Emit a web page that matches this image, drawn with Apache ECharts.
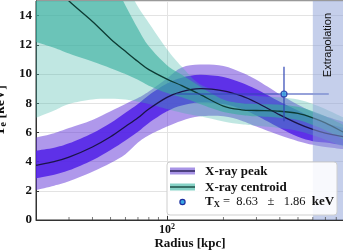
<!DOCTYPE html>
<html><head><meta charset="utf-8">
<script src="https://cdn.jsdelivr.net/npm/echarts@6/dist/echarts.min.js"></script>
<style>html,body{margin:0;padding:0;background:#fff}#c{width:343px;height:251px}</style>
</head><body><div id="c"></div>
<script>
// ---- data ----
const radius = [20,25,30,40,50,60,70,80,100,120,150,200,250,300,400,500,600,700,880];

const peakCenter  = [3.75,4.0,4.3,5.0,5.7,6.4,7.0,7.6,8.4,8.8,9.0,8.85,8.5,8.05,7.2,6.6,6.2,5.95,5.7];
const peakInnerLo = [2.85,3.1,3.4,4.1,4.8,5.45,6.05,6.65,7.45,7.85,8.05,7.95,7.6,7.15,6.3,5.7,5.4,5.3,5.1];
const peakInnerHi = [4.75,4.95,5.25,5.95,6.65,7.35,7.95,8.55,9.35,9.75,9.95,9.8,9.4,8.95,8.1,7.5,7.0,6.65,6.3];
const peakOuterLo = [2.05,2.35,2.65,3.3,3.9,4.5,5.3,5.8,6.4,6.8,7.1,7.1,6.8,6.4,5.8,5.4,5.15,5.0,4.85];
const peakOuterHi = [5.65,5.95,6.3,6.85,7.45,7.95,8.35,8.8,9.7,10.45,10.65,10.55,10.1,9.6,8.6,7.9,7.4,7.1,6.7];

const centroidCenter  = [17.3,16.1,15.0,13.6,12.4,11.55,10.85,10.3,9.65,9.2,8.6,7.8,7.55,7.5,7.45,7.3,7.0,6.65,6.0];
const centroidInnerLo = [12.2,11.8,11.4,10.85,10.4,10.0,9.6,9.2,8.7,8.4,7.95,7.4,7.2,7.1,7.0,6.85,6.5,6.15,5.5];
const centroidInnerHi = [21,20,19.2,17.8,16.6,14.7,13.1,11.9,10.6,9.95,9.15,8.25,8.0,7.95,7.9,7.75,7.45,7.1,6.5];
const centroidOuterLo = [7.0,7.5,7.95,8.25,8.3,8.25,8.1,7.95,7.6,7.35,7.1,6.75,6.55,6.45,6.3,6.1,5.8,5.5,5.0];
const centroidOuterHi = [24,23,22,20,18,16.2,14.6,13.5,11.7,10.5,9.3,8.75,8.55,8.5,8.4,8.25,7.95,7.6,7.0];

const txRadius = 421, txValue = 8.63, txError = 1.86;
const txRadiusRange = [112, 730];
const extrapolationStart = 600;
const xMin = 20, xMax = 880;
const yMin = 0, yMax = 15, yStep = 2;
const minorTicks = [30,40,50,60,70,80,90,200,300,400,500,600,700,800];

// ---- chart ----
const chart = echarts.init(document.getElementById('c'), null, {renderer: 'canvas'});
const SERIF = 'Liberation Serif';

function pairs(ys){ return radius.map((r,i)=>[r, ys[i]]); }

// Catmull-Rom spline through pixel points -> SVG path segments
function splineSegs(p){
  let d = '';
  for (let i = 0; i < p.length - 1; i++) {
    const p0 = p[Math.max(i-1,0)], p1 = p[i], p2 = p[i+1], p3 = p[Math.min(i+2,p.length-1)];
    const c1 = [p1[0] + (p2[0]-p0[0])/6, p1[1] + (p2[1]-p0[1])/6];
    const c2 = [p2[0] - (p3[0]-p1[0])/6, p2[1] - (p3[1]-p1[1])/6];
    d += ' C' + c1[0] + ' ' + c1[1] + ' ' + c2[0] + ' ' + c2[1] + ' ' + p2[0] + ' ' + p2[1];
  }
  return d;
}
function clipRect(params){
  const cs = params.coordSys;
  return {type:'rect', shape:{x:cs.x, y:cs.y, width:cs.width, height:cs.height}};
}
function bandSeries(name, lo, hi, color, z){
  return {type:'custom', name:name, data:pairs(hi), silent:true, z:z,
    renderItem:function(params, api){
      if (params.dataIndex !== 0) return null;
      const up = radius.map((r,i)=>api.coord([r, hi[i]]));
      const dn = radius.map((r,i)=>api.coord([r, lo[i]])).reverse();
      const d = 'M' + up[0][0] + ' ' + up[0][1] + splineSegs(up) +
                ' L' + dn[0][0] + ' ' + dn[0][1] + splineSegs(dn) + ' Z';
      return {type:'group', clipPath:clipRect(params),
        children:[{type:'path', shape:{pathData:d}, style:{fill:color, stroke:null}}]};
    }};
}
function curveSeries(name, ys, color, width, z){
  return {type:'custom', name:name, data:pairs(ys), silent:true, z:z,
    renderItem:function(params, api){
      if (params.dataIndex !== 0) return null;
      const pts = radius.map((r,i)=>api.coord([r, ys[i]]));
      const d = 'M' + pts[0][0] + ' ' + pts[0][1] + splineSegs(pts);
      return {type:'group', clipPath:clipRect(params),
        children:[{type:'path', shape:{pathData:d}, style:{fill:null, stroke:color, lineWidth:width}}]};
    }};
}

const series = [
  bandSeries('peakOuter', peakOuterLo, peakOuterHi, 'rgba(95,50,215,0.5)', 2),
  bandSeries('peakInner', peakInnerLo, peakInnerHi, 'rgba(80,30,232,0.85)', 2),
  bandSeries('centOuter', centroidOuterLo, centroidOuterHi, 'rgba(60,180,165,0.32)', 2),
  bandSeries('centInner', centroidInnerLo, centroidInnerHi, 'rgba(55,175,158,0.62)', 2),
  curveSeries('peakLine', peakCenter, '#1b1448', 1.3, 3),
  curveSeries('centLine', centroidCenter, '#0d3b33', 1.3, 3),
  {type:'line', name:'txH', data:[[txRadiusRange[0], txValue],[txRadiusRange[1], txValue]], symbol:'none',
   lineStyle:{color:'#2f44b4', width:1.2}, silent:true, z:4},
  {type:'line', name:'txV', data:[[txRadius, txValue-txError],[txRadius, txValue+txError]], symbol:'none',
   lineStyle:{color:'#2f44b4', width:1.2}, silent:true, z:4},
  {type:'scatter', name:'tx', data:[[txRadius, txValue]], symbol:'circle', symbolSize:6,
   itemStyle:{color:'#3aa6e4', borderColor:'#1c2e9e', borderWidth:1.2}, silent:true, z:6},
  {type:'scatter', name:'minorTicks', data:minorTicks.map(v=>[v, yMin]), symbol:'rect',
   symbolSize:[0.9,3], symbolOffset:[0,-1.5], itemStyle:{color:'#444'}, silent:true, clip:false, z:7},
  {type:'line', name:'extrap', data:[], z:5,
   markArea:{silent:true, z:5,
     itemStyle:{color:'rgba(140,160,215,0.5)'},
     label:{show:true, position:'insideTop', rotate:90, align:'right', verticalAlign:'middle', distance:12,
            color:'#111', fontFamily:'Liberation Sans', fontSize:11},
     data:[[{xAxis:extrapolationStart, name:'Extrapolation'},{xAxis:xMax}]]}}
];

const legendZ = 100;
chart.setOption({
  animation:false,
  backgroundColor:'#fff',
  grid:{left:36, right:-1, top:1, bottom:31, containLabel:false, outerBoundsMode:'none',
        show:true, borderColor:'#333', borderWidth:1, backgroundColor:'transparent'},
  xAxis:{type:'log', logBase:10, min:xMin, max:xMax,
    name:'Radius [kpc]', nameLocation:'middle', nameGap:17, nameMoveOverlap:false,
    nameTextStyle:{fontFamily:SERIF, fontWeight:'bold', fontSize:13, color:'#111'},
    axisLine:{show:true, lineStyle:{color:'#333', width:1}},
    axisTick:{show:true, inside:true, length:4, lineStyle:{color:'#333'}},
    splitLine:{show:true, lineStyle:{color:'#e3e3e3', width:1}},
    minorTick:{show:false}, minorSplitLine:{show:false},
    axisLabel:{margin:3, showMinLabel:false, showMaxLabel:false,
      formatter:function(v){ const l=Math.log10(v); return Math.abs(l-Math.round(l))<1e-6 ? '{a|10}{s|'+Math.round(l)+'}' : ''; },
      rich:{a:{fontFamily:SERIF, fontWeight:'bold', fontSize:12, color:'#111'},
            s:{fontFamily:SERIF, fontWeight:'bold', fontSize:8, color:'#111', verticalAlign:'top', padding:[0,0,6,0]}}}
  },
  yAxis:{type:'value', min:yMin, max:yMax, interval:yStep,
    name:'{t|T}{s|e}{t| [keV]}', nameLocation:'middle', nameGap:21, nameRotate:90,
    nameTextStyle:{rich:{t:{fontFamily:SERIF, fontWeight:'bold', fontSize:14, color:'#111'},
                         s:{fontFamily:SERIF, fontWeight:'bold', fontSize:10, color:'#111', padding:[6,0,0,0]}}},
    axisLine:{show:true, lineStyle:{color:'#333', width:1}},
    axisTick:{show:true, inside:true, length:3, lineStyle:{color:'#333'}},
    splitLine:{show:true, lineStyle:{color:'#e3e3e3', width:1}},
    axisLabel:{margin:4, showMaxLabel:false, fontFamily:SERIF, fontWeight:'bold', fontSize:13, color:'#111'}
  },
  series:series,
  graphic:[
    {type:'rect', z:legendZ, shape:{x:167, y:162, width:170, height:53, r:3},
     style:{fill:'rgba(255,255,255,0.88)', stroke:'#cfcfcf', lineWidth:1}},
    {type:'rect', z:legendZ+1, shape:{x:170, y:167.5, width:25, height:7}, style:{fill:'#a894e6'}},
    {type:'line', z:legendZ+2, shape:{x1:170, y1:171, x2:195, y2:171}, style:{stroke:'#1b1448', lineWidth:1.3}},
    {type:'rect', z:legendZ+1, shape:{x:170, y:183.5, width:25, height:7}, style:{fill:'#86d2c6'}},
    {type:'line', z:legendZ+2, shape:{x1:170, y1:187, x2:195, y2:187}, style:{stroke:'#0d3b33', lineWidth:1.3}},
    {type:'circle', z:legendZ+2, shape:{cx:182.5, cy:202, r:2.6}, style:{fill:'#3aa6e4', stroke:'#1c2e9e', lineWidth:1.2}},
    {type:'text', z:legendZ+2, x:205, y:171.5, style:{text:'X-ray peak', fontFamily:SERIF, fontWeight:'bold', fontSize:13, fill:'#111', verticalAlign:'middle'}},
    {type:'text', z:legendZ+2, x:205, y:187.5, style:{text:'X-ray centroid', fontFamily:SERIF, fontWeight:'bold', fontSize:13, fill:'#111', verticalAlign:'middle'}},
    {type:'text', z:legendZ+2, x:205, y:202, style:{text:'{b|T}{s|X}{n| =  8.63   \u00b1   1.86  }{b|keV}', verticalAlign:'middle',
      rich:{b:{fontFamily:SERIF, fontWeight:'bold', fontSize:13, fill:'#111'},
            s:{fontFamily:SERIF, fontWeight:'bold', fontSize:8.5, fill:'#111', padding:[5,0,0,0]},
            n:{fontFamily:SERIF, fontSize:12.5, fill:'#111'}}}}
  ]
});
</script></body></html>
